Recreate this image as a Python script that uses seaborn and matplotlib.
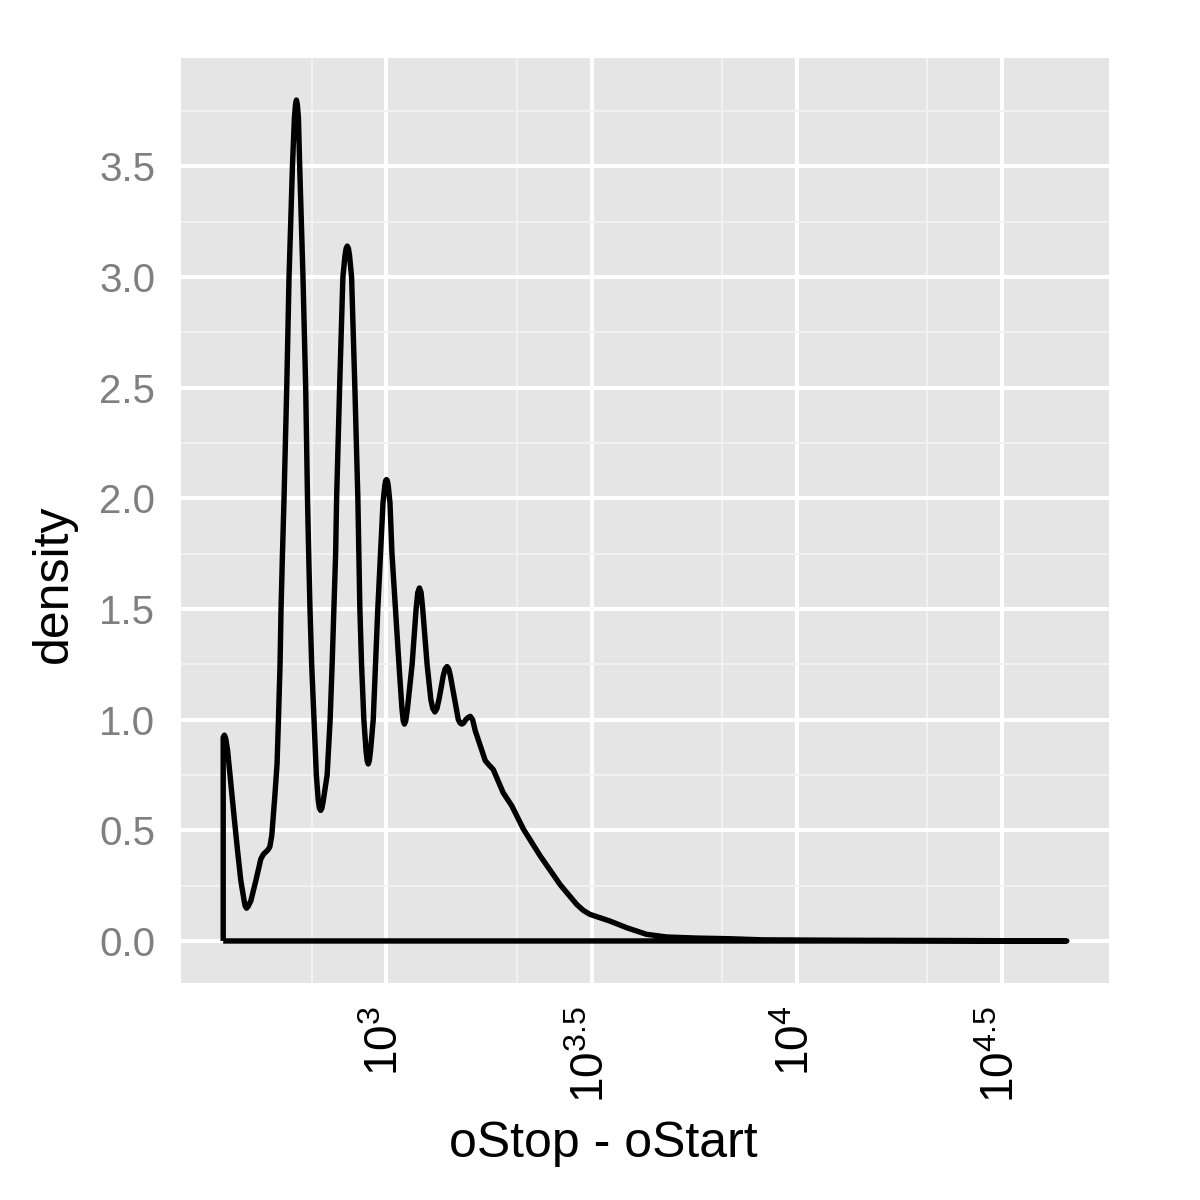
import numpy as np
import pandas as pd
import matplotlib
matplotlib.use("Agg")
import matplotlib.pyplot as plt
import seaborn as sns

# ---- data (x = log10(oStop - oStart), y = density) ----
log_len = [2.6019, 2.6048, 2.6080, 2.6126, 2.6206, 2.6286, 2.6369, 2.6449, 2.6530,
           2.6555, 2.6588, 2.6625,
           2.6693, 2.6814, 2.6936, 2.7000, 2.7057, 2.7110, 2.7155, 2.7203, 2.7276,
           2.7332, 2.7366,
           2.7405, 2.7429, 2.7464, 2.7502, 2.7568, 2.7624, 2.7707, 2.7755, 2.7782,
           2.7804, 2.7826,
           2.7853, 2.7884, 2.7964, 2.8030, 2.8074, 2.8103, 2.8135, 2.8176, 2.8232,
           2.8290, 2.8334, 2.8365, 2.8395, 2.8425, 2.8456, 2.8553, 2.8626, 2.8675,
           2.8718, 2.8760,
           2.8784, 2.8857, 2.8937, 2.8990, 2.9017, 2.9044, 2.9071, 2.9098, 2.9149,
           2.9229, 2.9302,
           2.9326, 2.9351, 2.9392, 2.9448, 2.9501, 2.9528, 2.9555, 2.9582, 2.9611,
           2.9677, 2.9732,
           2.9788, 2.9854, 2.9915, 2.9960, 2.9980, 3.0000, 3.0020, 3.0041, 3.0085,
           3.0134, 3.0219,
           3.0304, 3.0377, 3.0408, 3.0438, 3.0470, 3.0511, 3.0625, 3.0722, 3.0763,
           3.0803, 3.0843, 3.0883, 3.0990,
           3.1082, 3.1130, 3.1179, 3.1230, 3.1289, 3.1386, 3.1431, 3.1476, 3.1516,
           3.1556, 3.1654, 3.1751, 3.1795, 3.1836, 3.1880,
           3.1933, 3.1990, 3.2043, 3.2100, 3.2164, 3.2310, 3.2408, 3.2500, 3.2602,
           3.2845, 3.3057, 3.3339,
           3.3745, 3.4232, 3.4638, 3.4800, 3.4961, 3.5200, 3.5447, 3.5854, 3.6340,
           3.6826, 3.7556,
           3.8366, 3.9168, 4.1284, 4.3716, 4.6586]
density = [0.920, 0.930, 0.915, 0.861, 0.710, 0.559, 0.408, 0.272, 0.181,
           0.158, 0.148, 0.156,
           0.181, 0.272, 0.370, 0.392, 0.402, 0.412, 0.425, 0.476, 0.650,
           0.800, 1.000,
           1.250, 1.500, 1.750, 2.000, 2.500, 3.000, 3.500, 3.720, 3.780,
           3.800, 3.780,
           3.720, 3.500, 3.000, 2.500, 2.000, 1.750, 1.500, 1.250, 1.000,
           0.750, 0.640, 0.600, 0.590, 0.600, 0.630, 0.750, 1.000, 1.250,
           1.500, 1.750,
           2.000, 2.500, 3.000, 3.100, 3.130, 3.140, 3.130, 3.100, 3.000,
           2.500, 2.000,
           1.750, 1.500, 1.250, 1.000, 0.860, 0.815, 0.800, 0.815, 0.860,
           1.000, 1.250,
           1.500, 1.750, 1.980, 2.060, 2.080, 2.085, 2.080, 2.060, 1.980,
           1.750, 1.500,
           1.250, 1.050, 0.995, 0.980, 0.995, 1.050, 1.250, 1.500, 1.575,
           1.595, 1.575, 1.500, 1.250,
           1.090, 1.050, 1.035, 1.050, 1.100, 1.200, 1.230, 1.240, 1.230,
           1.200, 1.100, 1.000, 0.985, 0.980, 0.985,
           1.000, 1.010, 1.015, 1.000, 0.950, 0.870, 0.815, 0.795, 0.775,
           0.670, 0.610, 0.505,
           0.385, 0.255, 0.165, 0.138, 0.120, 0.105, 0.090, 0.060, 0.030,
           0.018, 0.013,
           0.010, 0.005, 0.003, 0.002, 0.000]

x_breaks = [3.0, 3.5, 4.0, 4.5]
x_labels = [r"$\mathregular{10^{3}}$", r"$\mathregular{10^{3.5}}$",
            r"$\mathregular{10^{4}}$", r"$\mathregular{10^{4.5}}$"]
x_minor = [2.818, 3.318, 3.818, 4.318]
y_breaks = [0.0, 0.5, 1.0, 1.5, 2.0, 2.5, 3.0, 3.5]
y_labels = ["0.0", "0.5", "1.0", "1.5", "2.0", "2.5", "3.0", "3.5"]
y_minor = [0.25, 0.75, 1.25, 1.75, 2.25, 2.75, 3.25, 3.75]

# ---- style ----
sns.set_style("white")
plt.rcParams['font.family'] = ['Liberation Sans', 'DejaVu Sans']
plt.rcParams['mathtext.fontset'] = 'custom'
plt.rcParams['mathtext.rm'] = 'Liberation Sans'
plt.rcParams['mathtext.it'] = 'Liberation Sans:italic'
plt.rcParams['mathtext.bf'] = 'Liberation Sans:bold'

# outline of the density polygon (closed along the baseline, as geom_density draws)
outline = pd.DataFrame({
    "x": [log_len[0]] + log_len + [log_len[-1], log_len[0]],
    "y": [0.0] + density + [0.0, 0.0],
})

fig = plt.figure(figsize=(12, 12), dpi=100)
fig.patch.set_facecolor("white")
ax = fig.add_axes([0.15083, 0.18083, 0.77333, 0.77083])
ax.set_facecolor("#E5E5E5")

sns.lineplot(data=outline, x="x", y="y", sort=False, estimator=None,
             color="black", linewidth=3.9, ax=ax, zorder=5)
for l in ax.lines:
    l.set_solid_joinstyle("round")
    l.set_solid_capstyle("butt")

ax.set_xlim(2.4990, 4.7615)
ax.set_ylim(-0.19, 3.99)

ax.set_xticks(x_breaks)
ax.set_xticklabels(x_labels, rotation=90, ha="center", va="top")
ax.set_xticks(x_minor, minor=True)
ax.set_yticks(y_breaks)
ax.set_yticklabels(y_labels)
ax.set_yticks(y_minor, minor=True)

ax.grid(which="major", color="white", linewidth=2.9)
ax.grid(which="minor", color="#F2F2F2", linewidth=1.4)
ax.set_axisbelow(True)

for s in ax.spines.values():
    s.set_visible(False)

ax.tick_params(axis="both", which="major", length=12.5, width=2.6,
               color="#7F7F7F", labelcolor="#7F7F7F", labelsize=29, pad=6)
ax.tick_params(axis="x", which="major", labelcolor="black", labelsize=33, pad=4)
ax.tick_params(axis="both", which="minor", length=0)

ax.set_xlabel("")
ax.set_ylabel("")
fig.text(603 / 1200, 1 - 1144 / 1200, "oStop - oStart", ha="center", va="center",
         fontsize=36, color="black")
fig.text(54 / 1200, 1 - 584 / 1200, "density", ha="center", va="center",
         rotation=90, fontsize=36, color="black")

fig.savefig("out.png", dpi=100)
